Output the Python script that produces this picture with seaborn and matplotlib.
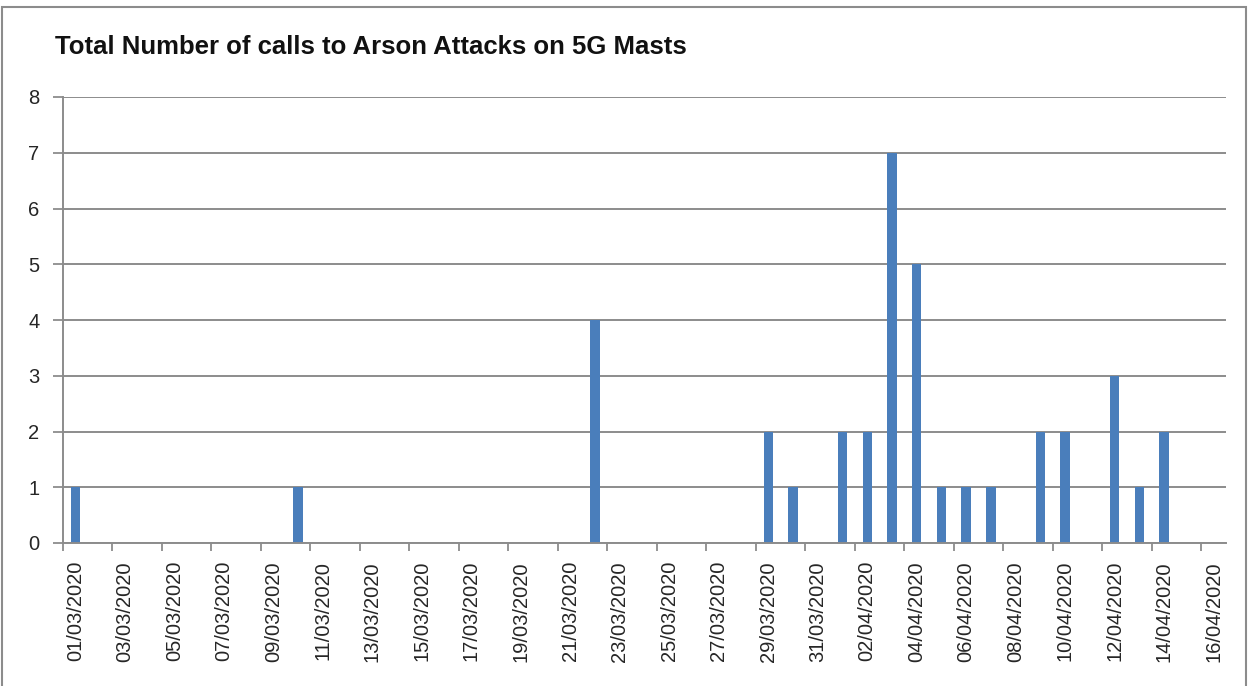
import numpy as np
import pandas as pd
import matplotlib
matplotlib.use("Agg")
import matplotlib.pyplot as plt
import seaborn as sns

# daily data, 01/03/2020 .. 16/04/2020
dates = pd.date_range("2020-03-01", "2020-04-16").strftime("%d/%m/%Y").tolist()
calls = [1, 0, 0, 0, 0, 0, 0, 0, 0, 1,
         0, 0, 0, 0, 0, 0, 0, 0, 0, 0,
         0, 4, 0, 0, 0, 0, 0, 0, 2, 1,
         0, 2, 2, 7, 5, 1, 1, 1, 0, 2,
         2, 0, 3, 1, 2, 0, 0]
title = "Total Number of calls to Arson Attacks on 5G Masts"

df = pd.DataFrame({"date": dates, "calls": calls})

sns.set_theme(style="white")
plt.rcParams["font.family"] = ["Liberation Sans", "DejaVu Sans"]

fig = plt.figure(figsize=(12.48, 6.86), dpi=100)
ax = fig.add_axes([63 / 1248, 1 - 543 / 686, (1226 - 63) / 1248, (543 - 97) / 686])

sns.barplot(data=df, x="date", y="calls", color="#4a7ebb", width=0.38,
            saturation=1, linewidth=0, ax=ax, order=dates)

grid_col = "#8c8c8c"
ax.set_xlim(-0.5, len(dates) - 0.5)
ax.set_ylim(0, 8)
ax.set_yticks(range(0, 9))
ax.yaxis.grid(True, color=grid_col, linewidth=1.4)
ax.set_axisbelow(True)

# labels every 2nd day, tick marks between label groups
ax.set_xticks(range(0, len(dates), 2))
ax.set_xticklabels(dates[::2], rotation=90, fontsize=14.5)
ax.set_xticks(np.arange(-0.5, len(dates) - 1, 2), minor=True)
ax.tick_params(axis="x", which="major", length=0, pad=13)
ax.tick_params(axis="x", which="minor", length=6, width=1.3, color=grid_col, bottom=True)
ax.tick_params(axis="y", length=7, width=1.3, color=grid_col, left=True, labelsize=14.5, pad=10)

for s in ["top", "right"]:
    ax.spines[s].set_visible(False)
for s in ["left", "bottom"]:
    ax.spines[s].set_color(grid_col)
    ax.spines[s].set_linewidth(1.4)

ax.set_xlabel("")
ax.set_ylabel("")

fig.text(55 / 1248, 1 - 47 / 686, title, fontsize=18.5, fontweight="bold",
         ha="left", va="center", color="#111111")

# chart border
fig.patches.append(plt.Rectangle((2 / 1248, -0.01), 1 - 4 / 1248, 1.0, transform=fig.transFigure,
                                 fill=False, edgecolor="#8c8c8c", linewidth=1.5))

fig.savefig("out.png", dpi=100)
